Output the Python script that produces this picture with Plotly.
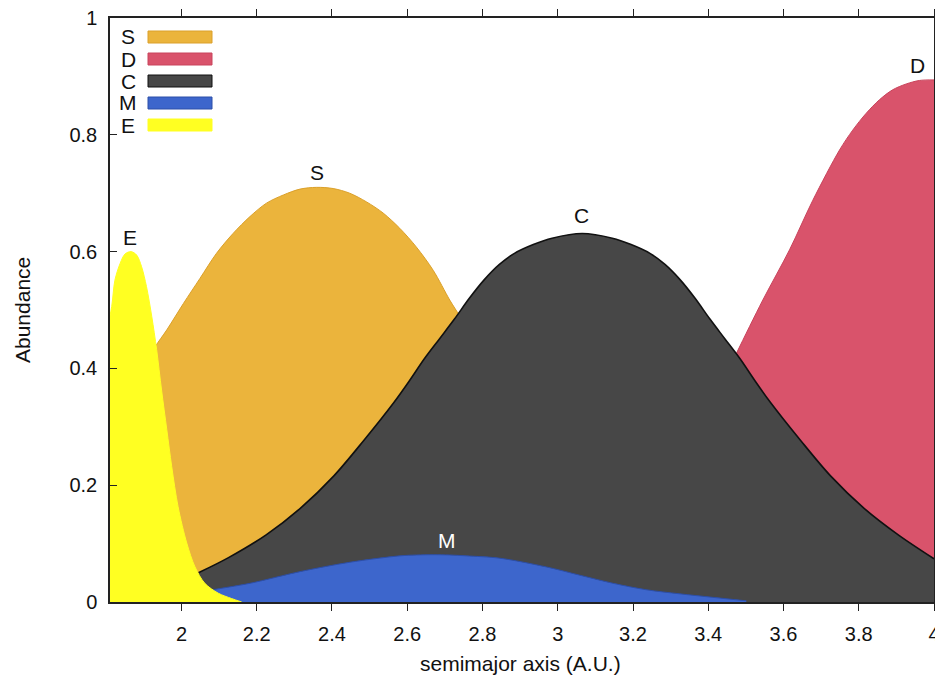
import plotly.graph_objects as go

# ---- data ----
S_x = [1.90, 1.93, 1.961, 2.005, 2.049, 2.093, 2.137, 2.182, 2.226, 2.271, 2.315, 2.359, 2.403,
       2.447, 2.492, 2.536, 2.580, 2.624, 2.669, 2.713, 2.74, 2.80, 2.90, 3.00, 3.10]
S_y = [0.40, 0.437, 0.466, 0.511, 0.554, 0.597, 0.631, 0.660, 0.683, 0.697, 0.707, 0.710, 0.708,
       0.700, 0.685, 0.666, 0.640, 0.608, 0.568, 0.517, 0.489, 0.42, 0.33, 0.25, 0.18]

D_x = [3.35, 3.41, 3.475, 3.545, 3.616, 3.678, 3.749, 3.784, 3.820, 3.855, 3.890, 3.926, 3.961, 4.0]
D_y = [0.27, 0.34, 0.426, 0.517, 0.603, 0.688, 0.774, 0.808, 0.837, 0.860, 0.877, 0.887, 0.893, 0.894]

C_x = [2.045, 2.125, 2.225, 2.315, 2.405, 2.485, 2.565, 2.605, 2.645, 2.685, 2.725, 2.765, 2.805,
       2.845, 2.885, 2.935, 2.985, 3.065, 3.145, 3.195, 3.245, 3.285, 3.325, 3.365, 3.405, 3.445,
       3.485, 3.525, 3.565, 3.645, 3.725, 3.815, 3.905, 4.0]
C_y = [0.050, 0.076, 0.115, 0.160, 0.216, 0.277, 0.342, 0.378, 0.416, 0.450, 0.484, 0.520, 0.552,
       0.578, 0.597, 0.612, 0.623, 0.631, 0.623, 0.612, 0.597, 0.578, 0.552, 0.520, 0.484, 0.450,
       0.416, 0.378, 0.342, 0.277, 0.216, 0.160, 0.115, 0.074]

M_x = [2.07, 2.084, 2.182, 2.315, 2.447, 2.580, 2.625, 2.669, 2.713, 2.757, 2.846, 2.970, 3.058,
       3.147, 3.235, 3.324, 3.412, 3.501]
M_y = [0.019, 0.021, 0.032, 0.052, 0.068, 0.079, 0.0805, 0.081, 0.0805, 0.079, 0.075, 0.060, 0.046,
       0.032, 0.021, 0.014, 0.008, 0.002]

E_x = [1.80, 1.8145, 1.823, 1.837, 1.850, 1.866, 1.881, 1.894, 1.907, 1.921, 1.934, 1.947, 1.961,
       1.974, 1.991, 2.014, 2.036, 2.062, 2.098, 2.133, 2.160]
E_y = [0.46, 0.506, 0.551, 0.580, 0.596, 0.600, 0.594, 0.574, 0.540, 0.489, 0.432, 0.363, 0.295,
       0.232, 0.163, 0.101, 0.060, 0.032, 0.015, 0.006, 0.0]

x_ticks = [2, 2.2, 2.4, 2.6, 2.8, 3, 3.2, 3.4, 3.6, 3.8, 4]
x_tick_text = ["2", "2.2", "2.4", "2.6", "2.8", "3", "3.2", "3.4", "3.6", "3.8", "4"]
y_ticks = [0, 0.2, 0.4, 0.6, 0.8, 1]
y_tick_text = ["0", "0.2", "0.4", "0.6", "0.8", "1"]

names = ["S", "D", "C", "M", "E"]
series = {"S": (S_x, S_y), "D": (D_x, D_y), "C": (C_x, C_y), "M": (M_x, M_y), "E": (E_x, E_y)}
fills = {"S": "#EBB43C", "D": "#D9536B", "C": "#474747", "M": "#3D66CC", "E": "#FFFF22"}
lines = {"S": "#DBA02A", "D": "#C9445C", "C": "#111111", "M": "#2C4EA8", "E": "#FFFF22"}
widths = {"S": 1, "D": 1, "C": 1.6, "M": 1, "E": 1}

# curve labels (name, x, y, colour)
labels = [("S", 2.36, 0.735, "#111111"), ("C", 3.064, 0.661, "#111111"),
          ("E", 1.863, 0.625, "#111111"), ("D", 3.956, 0.919, "#111111"),
          ("M", 2.705, 0.106, "#FFFFFF")]

FONT = "Liberation Sans, Arial, sans-serif"

# page has an 8px body margin; plot area in page pixels: 110..934 x 18..602
OFF = 8
W, H = 952, 671
PL, PR, PT, PB = 110, 934, 18, 602
pw, ph = PR - PL, PB - PT


def px2paper(px):
    return (px - PL) / pw


def py2paper(py):
    return (PB - py) / ph


fig = go.Figure()
for n in names:
    xs, ys = series[n]
    fig.add_trace(go.Scatter(
        x=xs, y=ys, mode="lines", fill="tozeroy", name=n,
        line=dict(color=lines[n], width=widths[n], shape="spline", smoothing=0.9),
        fillcolor=fills[n], showlegend=False, hoverinfo="skip"))

annotations = []
for t, lx, ly, col in labels:
    annotations.append(dict(x=lx, y=ly, xref="x", yref="y", text=t, showarrow=False,
                            xanchor="center", yanchor="middle",
                            font=dict(family=FONT, size=21, color=col)))

# custom legend: letter then swatch
shapes = []
row_py = [37, 59, 81, 103, 125]
for n, py in zip(names, row_py):
    yc = py2paper(py)
    annotations.append(dict(x=px2paper(128), y=yc, xref="paper", yref="paper", text=n,
                            showarrow=False, xanchor="center", yanchor="middle",
                            font=dict(family=FONT, size=21, color="#111111")))
    shapes.append(dict(type="rect", xref="paper", yref="paper",
                       x0=px2paper(148), x1=px2paper(212),
                       y0=yc - 6 / ph, y1=yc + 6 / ph,
                       fillcolor=fills[n], line=dict(color=lines[n], width=1)))

annotations.append(dict(x=px2paper(520), y=py2paper(663), xref="paper", yref="paper",
                        text="semimajor axis (A.U.)", showarrow=False,
                        xanchor="center", yanchor="middle",
                        font=dict(family=FONT, size=21, color="#111111")))
annotations.append(dict(x=px2paper(22), y=py2paper(310), xref="paper", yref="paper",
                        text="Abundance", showarrow=False, textangle=-90,
                        xanchor="center", yanchor="middle",
                        font=dict(family=FONT, size=21, color="#111111")))

fig.update_layout(
    width=W, height=H,
    margin=dict(l=PL - OFF, r=W - (PR - OFF), t=PT - OFF, b=H - (PB - OFF), pad=0,
                autoexpand=False),
    paper_bgcolor="white", plot_bgcolor="white",
    annotations=annotations, shapes=shapes,
    xaxis=dict(range=[1.81, 4.0], tickvals=x_ticks, ticktext=x_tick_text,
               ticks="outside", ticklen=7, tickwidth=1.2, tickcolor="#222",
               showline=True, linecolor="#222", linewidth=1.5, mirror="ticks",
               showgrid=False, zeroline=False, ticklabelstandoff=6, automargin=False,
               ticklabeloverflow="allow",
               tickfont=dict(family=FONT, size=20, color="#111111")),
    yaxis=dict(range=[0, 1], tickvals=y_ticks, ticktext=y_tick_text,
               ticks="inside", ticklen=7, tickwidth=1.2, tickcolor="#222",
               showline=True, linecolor="#222", linewidth=1.5, mirror=True,
               showgrid=False, zeroline=False, ticklabelstandoff=7, automargin=False,
               ticklabeloverflow="allow",
               tickfont=dict(family=FONT, size=20, color="#111111")),
)

fig.write_html("out.html")
